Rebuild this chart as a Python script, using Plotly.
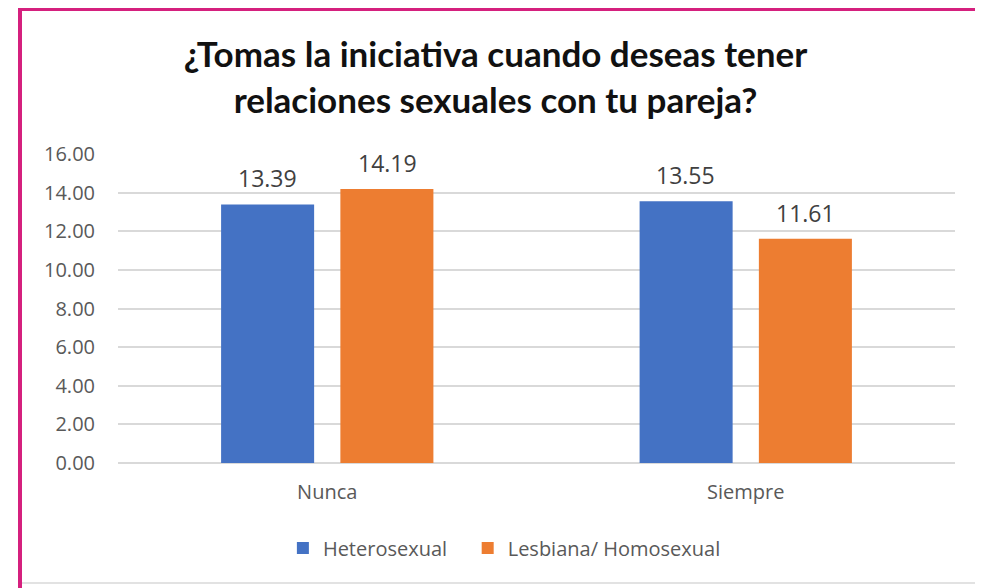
import plotly.graph_objects as go

categories = ["Nunca", "Siempre"]
series_names = ["Heterosexual", "Lesbiana/ Homosexual"]
hetero = [13.39, 13.55]
lesb = [14.19, 11.61]
tick_vals = [0, 2, 4, 6, 8, 10, 12, 14, 16]
tick_text = ["%.2f" % v for v in tick_vals]
title_text = "¿Tomas la iniciativa cuando deseas tener<br>relaciones sexuales con tu pareja?"

colors = ["#4472C4", "#ED7D31"]
values = [hetero, lesb]

W, H = 975, 580
ML, MR, MT, MB = 110, 28, 146, 125
PW, PH = W - ML - MR, H - MT - MB

# extra spacing after legend labels (non-breaking spaces, invisible)
pads = ["\u00a0\u00a0\u00a0", ""]

fig = go.Figure()
for name, vals, col, pad in zip(series_names, values, colors, pads):
    fig.add_trace(go.Bar(
        x=categories, y=vals, name=name + pad, marker_color=col,
        marker_line_width=0,
    ))

annotations = []
for i, vals in enumerate(values):
    shift = -60 if i == 0 else 60
    for c, v in zip(categories, vals):
        annotations.append(dict(
            x=c, y=v, xref="x", yref="y", text="%.2f" % v, showarrow=False,
            xshift=shift, yshift=8, yanchor="bottom",
            font=dict(family="Open Sans, sans-serif", size=23, color="#404040"),
        ))

legend_font = dict(family="Open Sans, sans-serif", size=20, color="#595959")
pink = "#D5207E"
fig.update_layout(
    width=W, height=H,
    paper_bgcolor="white", plot_bgcolor="white",
    margin=dict(l=ML, r=MR, t=MT, b=MB),
    barmode="group", bargap=0.43, bargroupgap=0.22,
    title=dict(text=title_text, x=0.5, xanchor="center", y=1 - 59 / H, yanchor="middle",
               font=dict(family="Lato, sans-serif", size=35, color="#111111", weight="bold")),
    xaxis=dict(showgrid=False, showline=False, ticks="", ticklabelstandoff=15,
               tickfont=dict(family="Open Sans, sans-serif", size=20, color="#595959")),
    yaxis=dict(range=[0, 16], tickvals=tick_vals, ticktext=tick_text,
               showgrid=True, gridcolor="#d9d9d9", gridwidth=1.5,
               zeroline=True, zerolinecolor="#d9d9d9", zerolinewidth=1.5,
               ticks="", ticklabelstandoff=22,
               tickfont=dict(family="Open Sans, sans-serif", size=20, color="#595959")),
    legend=dict(orientation="h", x=0.197, xanchor="left", y=-85 / PH, yanchor="middle",
                font=legend_font),
    annotations=annotations,
    shapes=[
        dict(type="line", xref="paper", yref="paper",
             x0=(10 - ML) / PW, x1=(W - ML) / PW,
             y0=1 + (MT - 1) / PH, y1=1 + (MT - 1) / PH,
             line=dict(color=pink, width=4)),
        dict(type="line", xref="paper", yref="paper",
             x0=(12 - ML) / PW, x1=(12 - ML) / PW,
             y0=-(MB) / PH, y1=1 + MT / PH,
             line=dict(color=pink, width=4)),
        dict(type="line", xref="paper", yref="paper",
             x0=(14 - ML) / PW, x1=(W - ML) / PW,
             y0=-(583 - 8 - MT - PH) / PH, y1=-(583 - 8 - MT - PH) / PH,
             line=dict(color="#d9d9d9", width=1.5)),
    ],
)

fig.write_html("out.html")
